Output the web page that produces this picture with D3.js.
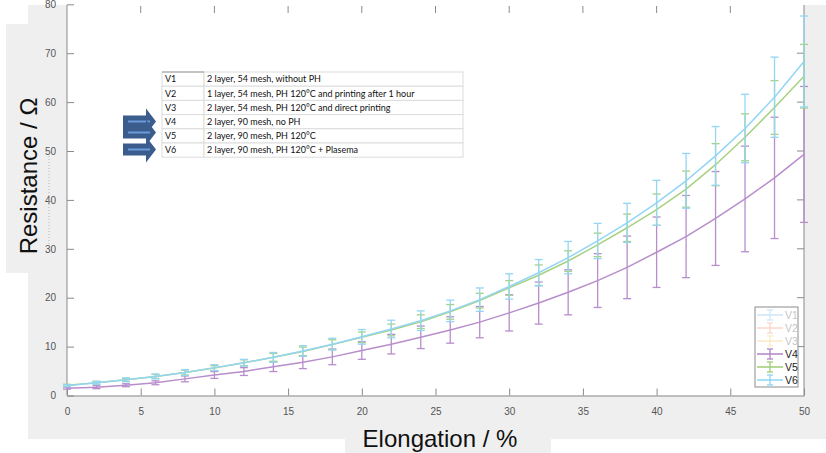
<!DOCTYPE html>
<html>
<head>
<meta charset="utf-8">
<script src="https://cdn.jsdelivr.net/npm/d3@7"></script>
<style>
  body { margin: 0; background: #fff; }
  svg { display: block; font-family: "Liberation Sans", Arial, sans-serif; }
</style>
</head>
<body>
<div id="chart"></div>
<script>
// DATA
const elongation = [0, 2, 4, 6, 8, 10, 12, 14, 16, 18, 20, 22, 24, 26, 28, 30, 32, 34, 36, 38, 40, 42, 44, 46, 48, 50];
const v4Mean = [1.5, 1.7, 2.1, 2.6, 3.4, 4.2, 4.9, 5.9, 6.8, 7.9, 9.2, 10.5, 11.9, 13.4, 15.0, 16.9, 18.9, 21.1, 23.5, 26.2, 29.3, 32.5, 36.2, 40.2, 44.5, 49.3];
const v4Err  = [0.2, 0.3, 0.3, 0.4, 0.6, 0.7, 0.8, 1.0, 1.3, 1.6, 1.8, 2.0, 2.3, 2.7, 3.2, 3.7, 4.3, 4.6, 5.5, 6.4, 7.2, 8.4, 9.6, 10.8, 12.4, 13.9];
const v5Mean = [2.1, 2.6, 3.2, 3.9, 4.7, 5.6, 6.7, 7.8, 9.0, 10.4, 11.9, 13.4, 15.1, 17.1, 19.4, 22.0, 24.6, 27.5, 30.8, 34.3, 38.0, 42.2, 47.2, 52.8, 58.9, 65.3];
const v5Err  = [0.2, 0.3, 0.3, 0.4, 0.5, 0.5, 0.6, 0.8, 0.9, 1.0, 1.1, 1.2, 1.4, 1.5, 1.5, 1.5, 2.1, 2.1, 2.4, 2.8, 3.2, 3.7, 4.3, 4.8, 5.5, 6.5];
const v6Mean = [2.0, 2.6, 3.2, 3.9, 4.7, 5.7, 6.7, 7.8, 9.1, 10.5, 12.0, 13.6, 15.3, 17.3, 19.6, 22.3, 25.1, 28.2, 31.6, 35.3, 39.4, 43.9, 49.0, 54.6, 61.0, 68.3];
const v6Err  = [0.2, 0.3, 0.4, 0.5, 0.6, 0.6, 0.7, 1.0, 1.1, 1.2, 1.5, 1.8, 2.0, 2.2, 2.4, 2.6, 2.7, 3.3, 3.6, 4.0, 4.6, 5.6, 6.0, 7.0, 8.2, 9.3];

const xTicks = [0, 5, 10, 15, 20, 25, 30, 35, 40, 45, 50];
const yTicks = [0, 10, 20, 30, 40, 50, 60, 70, 80];

const legendNames = ["V1", "V2", "V3", "V4", "V5", "V6"];
const tableCodes = ["V1", "V2", "V3", "V4", "V5", "V6"];
const tableDescriptions = [
  "2 layer, 54 mesh, without PH",
  "1 layer, 54 mesh, PH 120°C and printing after 1 hour",
  "2 layer, 54 mesh, PH 120°C and direct printing",
  "2 layer, 90 mesh, no PH",
  "2 layer, 90 mesh, PH 120°C",
  "2 layer, 90 mesh, PH 120°C + Plasema"
];
const arrowRows = ["V4", "V5", "V6"];

// 1: SET GLOBAL VARIABLES
const W = 826, H = 453;
const plot = { left: 67, right: 804, top: 5, bottom: 395.5 };
const grey = "#efefef";

const legendColors = ["#cfe6f6", "#f8d8c8", "#fbebc6", "#b185c6", "#9fcd76", "#8dd4f4"];
const legendText = ["#c6c6c6", "#c6c6c6", "#c6c6c6", "#222", "#222", "#222"];

const series = [
  { name: "V4", mean: v4Mean, err: v4Err, color: "#b88dcc" },
  { name: "V5", mean: v5Mean, err: v5Err, color: "#a6d181" },
  { name: "V6", mean: v6Mean, err: v6Err, color: "#93d6f4" }
];

const svg = d3.select("#chart").append("svg")
  .attr("width", W)
  .attr("height", H);

// background panels (figure area)
svg.append("rect").attr("x", 28).attr("y", 5).attr("width", W - 28).attr("height", 434).attr("fill", grey);
svg.append("rect").attr("x", 6).attr("y", 24).attr("width", 30).attr("height", 249).attr("fill", grey);
svg.append("rect").attr("x", 345).attr("y", 439).attr("width", 206).attr("height", 14).attr("fill", grey);
svg.append("rect")
  .attr("x", plot.left).attr("y", plot.top)
  .attr("width", plot.right - plot.left).attr("height", plot.bottom - plot.top)
  .attr("fill", "#fff");

// 2: SCALES
const x = d3.scaleLinear().domain([0, 50]).range([plot.left, plot.right]);
const y = d3.scaleLinear().domain([0, 80]).range([plot.bottom, 4.3]);

// 3: AXES (matlab style, ticks inward)
const axisColor = "#8a8a8a";
const xAxis = svg.append("g")
  .attr("transform", `translate(0,${plot.bottom})`)
  .call(d3.axisBottom(x).tickValues(xTicks).tickSizeInner(-7).tickSizeOuter(0).tickPadding(12));
const yAxis = svg.append("g")
  .attr("transform", `translate(${plot.left},0)`)
  .call(d3.axisLeft(y).tickValues(yTicks).tickSizeInner(-7).tickSizeOuter(0).tickPadding(11));
[xAxis, yAxis].forEach(g => {
  g.select(".domain").attr("stroke", axisColor);
  g.selectAll(".tick line").attr("stroke", axisColor);
  g.selectAll(".tick text").attr("fill", "#555").style("font-size", "10px");
});
yAxis.select(".domain").attr("d", `M0,${plot.bottom}V${plot.top}`);

// top and right ticks
svg.append("g").selectAll("line")
  .data(xTicks.slice(1, -1))
  .join("line")
  .attr("x1", d => x(d)).attr("x2", d => x(d))
  .attr("y1", plot.top + 1).attr("y2", plot.top + 8)
  .attr("stroke", axisColor);
svg.append("line")
  .attr("x1", plot.right).attr("x2", plot.right)
  .attr("y1", plot.top).attr("y2", plot.bottom)
  .attr("stroke", axisColor);
svg.append("g").selectAll("line")
  .data(yTicks.slice(1, -1))
  .join("line")
  .attr("x1", plot.right).attr("x2", plot.right - 7)
  .attr("y1", d => y(d)).attr("y2", d => y(d))
  .attr("stroke", axisColor);

// 4: PLOT DATA
const line = d3.line()
  .x((d, i) => x(elongation[i]))
  .y(d => y(d));

series.forEach(s => {
  const g = svg.append("g");
  const pts = elongation.map((e, i) => ({ e, m: s.mean[i], r: s.err[i] }));
  g.selectAll("line.bar").data(pts).join("line")
    .attr("x1", d => x(d.e)).attr("x2", d => x(d.e))
    .attr("y1", d => y(d.m - d.r)).attr("y2", d => y(d.m + d.r))
    .attr("stroke", s.color).attr("stroke-width", 1.3);
  ["low", "high"].forEach(k => {
    g.selectAll("line.cap" + k).data(pts).join("line")
      .attr("x1", d => x(d.e) - 4).attr("x2", d => x(d.e) + 4)
      .attr("y1", d => y(k === "low" ? d.m - d.r : d.m + d.r))
      .attr("y2", d => y(k === "low" ? d.m - d.r : d.m + d.r))
      .attr("stroke", s.color).attr("stroke-width", 1.3);
  });
  g.append("path")
    .datum(s.mean)
    .attr("fill", "none")
    .attr("stroke", s.color)
    .attr("stroke-width", 1.5)
    .attr("d", line);
});

// 5: LEGEND
const lg = svg.append("g");
lg.append("rect")
  .attr("x", 755).attr("y", 307).attr("width", 43).attr("height", 80)
  .attr("fill", "#fff").attr("stroke", "#8c8c8c");
legendNames.forEach((n, i) => {
  const cy = 315 + i * 13;
  lg.append("line").attr("x1", 757).attr("x2", 783).attr("y1", cy).attr("y2", cy)
    .attr("stroke", legendColors[i]).attr("stroke-width", 1.5);
  lg.append("line").attr("x1", 770).attr("x2", 770).attr("y1", cy - 5).attr("y2", cy + 5)
    .attr("stroke", legendColors[i]).attr("stroke-width", 1.3);
  [-5, 5].forEach(o => lg.append("line")
    .attr("x1", 767).attr("x2", 773).attr("y1", cy + o).attr("y2", cy + o)
    .attr("stroke", legendColors[i]).attr("stroke-width", 1.3));
  lg.append("text").attr("x", 785).attr("y", cy + 4)
    .attr("fill", legendText[i]).style("font-size", "10.5px").text(n);
});

// 6: LABELS
svg.append("text")
  .attr("x", 440).attr("y", 446.5)
  .attr("text-anchor", "middle")
  .style("font-size", "24px").attr("fill", "#111")
  .text("Elongation / %");
svg.append("text")
  .attr("transform", "translate(37,176) rotate(-90)")
  .attr("text-anchor", "middle")
  .style("font-size", "24px").attr("fill", "#111")
  .text("Resistance / Ω");
svg.append("line")
  .attr("x1", 49).attr("x2", 49).attr("y1", 156).attr("y2", 245)
  .attr("stroke", "#b5b5b5").attr("stroke-dasharray", "1,2");

// 7: ANNOTATION TABLE
const tbl = svg.append("g");
const rowH = 14.2, t0 = 72, c0 = 162, c1 = 204, c2 = 463;
const tblFont = "Lato, 'Liberation Sans', sans-serif";
tableCodes.forEach((c, i) => {
  const ty = t0 + i * rowH;
  tbl.append("rect").attr("x", c0).attr("y", ty).attr("width", c1 - c0).attr("height", rowH)
    .attr("fill", "#fff").attr("stroke", "#dcdcdc");
  tbl.append("rect").attr("x", c1).attr("y", ty).attr("width", c2 - c1).attr("height", rowH)
    .attr("fill", "#fff").attr("stroke", "#dcdcdc");
  tbl.append("text").attr("x", c0 + 3).attr("y", ty + 10.3)
    .style("font-family", tblFont)
    .style("font-size", "9px").attr("fill", "#111").text(c);
  tbl.append("text").attr("x", c1 + 3).attr("y", ty + 10.3)
    .style("font-family", tblFont)
    .style("font-size", "9px").attr("fill", "#111").text(tableDescriptions[i]);
});
tbl.append("line").attr("x1", c0).attr("x2", c1).attr("y1", t0).attr("y2", t0).attr("stroke", "#999");

// arrows pointing at V4..V6 rows
const arrowY = [121.5, 132.5, 149.5];
arrowRows.forEach((r, i) => {
  const cy = arrowY[i];
  svg.append("path")
    .attr("d", `M123,${cy - 6}H146V${cy - 13}L156,${cy}L146,${cy + 13}V${cy + 6}H123Z`)
    .attr("fill", "#3a5d8d");
  svg.append("line")
    .attr("x1", 128).attr("x2", 150).attr("y1", cy).attr("y2", cy)
    .attr("stroke", "#6b9bd8").attr("stroke-width", 2);
});
</script>
</body>
</html>
